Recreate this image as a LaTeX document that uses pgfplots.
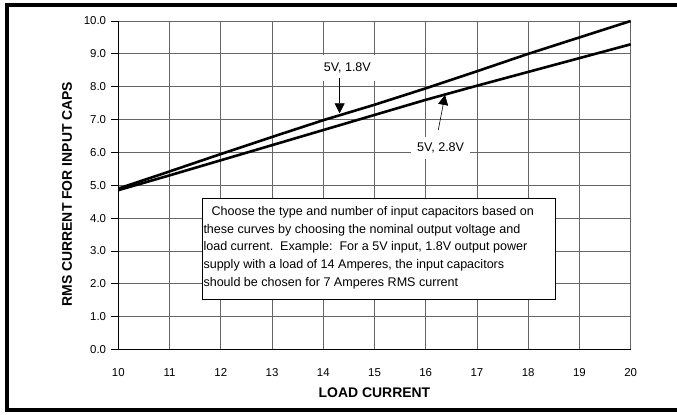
\documentclass[border=0pt]{standalone}
\usepackage{pgfplots}
\pgfplotsset{compat=1.18}
\usepackage{fontspec}
\setmainfont{Liberation Sans}
\usetikzlibrary{arrows.meta}

\pgfplotstableread{
x y
10 4.90
11 5.42
12 5.95
13 6.47
14 6.98
15 7.45
16 7.95
17 8.47
18 9.00
19 9.50
20 10.00
}\upperdata
\pgfplotstableread{
x y
10 4.85
11 5.30
12 5.76
13 6.22
14 6.68
15 7.14
16 7.60
17 8.03
18 8.45
19 8.87
20 9.29
}\lowerdata

\begin{document}
\begin{tikzpicture}
\useasboundingbox (0bp,0bp) rectangle (677bp,415bp);
\clip (0bp,0bp) rectangle (677bp,415bp);
\draw[line width=4bp] (700bp,409.7bp) -- (7bp,409.7bp) -- (7bp,4.5bp) -- (700bp,4.5bp);
\begin{axis}[
  at={(118.3bp,65.5bp)}, anchor=south west,
  width=512.4bp, height=328.5bp, scale only axis,
  xmin=10, xmax=20, ymin=0, ymax=10,
  xtick={10,11,...,20}, ytick={0,1,...,10},
  axis lines*=left,
  grid=major,
  grid style={black!60, line width=0.8bp},
  axis line style={black, line width=0.8bp},
  /pgf/number format/assume math mode=true,
  yticklabel={\pgfmathprintnumber[fixed,fixed zerofill,precision=1]{\tick}},
  tick label style={font=\fontsize{11.5}{13}\selectfont},
  xtick style={draw=none},
  ytick style={black, line width=0.8bp},
  tick align=outside,
  major tick length=7bp,
  xticklabel style={anchor=center, inner sep=0pt, yshift=-16bp},
  yticklabel style={anchor=east, inner sep=0pt, xshift=-5bp},
  xlabel={LOAD CURRENT},
  ylabel={RMS CURRENT FOR INPUT CAPS},
  label style={font=\fontsize{14}{16}\selectfont\bfseries},
  xlabel style={at={(axis description cs:0.5,-0.13)}, anchor=center},
  ylabel style={at={(axis description cs:-0.100,0.473)}, anchor=center, rotate=0},
  clip=false,
]
\addplot[black, line width=2.6bp, line join=round] table {\upperdata};
\addplot[black, line width=2.6bp, line join=round] table {\lowerdata};

\node[fill=white, inner xsep=5bp, inner ysep=8bp, font=\fontsize{12.6}{14}\selectfont]
  at (axis cs:14.47,8.57) {5V, 1.8V};
\node[fill=white, inner xsep=6bp, inner ysep=6bp, font=\fontsize{12.6}{14}\selectfont]
  at (axis cs:16.29,6.13) {5V, 2.8V};
\draw[line width=0.6bp, -{Triangle[length=10bp,width=10bp]}]
  (axis cs:14.32,8.26) -- (axis cs:14.32,7.19);
\draw[line width=0.6bp, -{Triangle[length=10bp,width=10bp]}]
  (axis cs:16.245,6.68) -- (axis cs:16.376,7.75);

\draw[black, line width=0.8bp, fill=white] (axis cs:11.64,4.61) rectangle (axis cs:18.54,1.51);
\node[anchor=north west, inner sep=0pt, align=left,
  font=\fontsize{12.6}{17.6}\selectfont]
  at (axis cs:11.659,4.35)
  {\hspace*{8bp}Choose the type and number of input capacitors based on\\
   these curves by choosing the nominal output voltage and\\
   load current.\ \ Example:\ \ For a 5V input, 1.8V output power\\
   supply with a load of 14 Amperes, the input capacitors\\
   should be chosen for 7 Amperes RMS current};
\end{axis}
\end{tikzpicture}
\end{document}
